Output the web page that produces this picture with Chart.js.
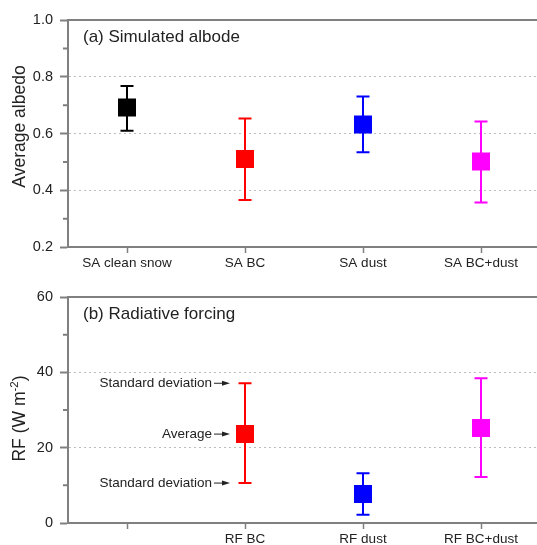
<!DOCTYPE html>
<html>
<head>
<meta charset="utf-8">
<script src="https://cdn.jsdelivr.net/npm/chart.js@4.4.0/dist/chart.umd.min.js"></script>
<style>
  html, body { margin: 0; padding: 0; background: #fff; overflow: hidden; }
  .panel { position: relative; width: 540px; }
  #top { height: 270px; }
  #bottom { height: 275px; }
</style>
</head>
<body>
<div class="panel" id="top"><canvas id="albedoChart"></canvas></div>
<div class="panel" id="bottom"><canvas id="rfChart"></canvas></div>
<script>
// panel (a): simulated albedo, mean and +/- one standard deviation
const albedoLabels = ['SA clean snow', 'SA BC', 'SA dust', 'SA BC+dust'];
const albedoMean = [0.692, 0.510, 0.632, 0.501];
const albedoUpper = [0.767, 0.653, 0.730, 0.642];
const albedoLower = [0.610, 0.366, 0.534, 0.357];
const albedoTicks = [0.2, 0.4, 0.6, 0.8, 1.0];

// panel (b): radiative forcing (first slot is empty on purpose)
const rfLabels = ['', 'RF BC', 'RF dust', 'RF BC+dust'];
const rfMean = [null, 23.6, 7.7, 25.2];
const rfUpper = [null, 37.1, 13.2, 38.4];
const rfLower = [null, 10.6, 2.2, 12.2];
const rfTicks = [0, 20, 40, 60];

const markerColors = ['#000000', '#ff0000', '#0000ff', '#ff00ff'];

const FONT = '"Liberation Sans", Arial, sans-serif';
const AXIS = '#808080';
const TEXT = '#222';
Chart.defaults.font.family = FONT;

// vertical error bars with caps, drawn under the square markers
const errorBars = {
  id: 'errorBars',
  beforeDatasetsDraw(chart, args, opts) {
    const { ctx, scales: { x, y } } = chart;
    ctx.save();
    ctx.lineWidth = 2;
    opts.upper.forEach((hi, i) => {
      if (hi == null) return;
      const px = x.getPixelForValue(i);
      const top = y.getPixelForValue(hi);
      const bot = y.getPixelForValue(opts.lower[i]);
      ctx.strokeStyle = opts.colors[i];
      ctx.beginPath();
      ctx.moveTo(px, top); ctx.lineTo(px, bot);
      ctx.moveTo(px - 6.5, top); ctx.lineTo(px + 6.5, top);
      ctx.moveTo(px - 6.5, bot); ctx.lineTo(px + 6.5, bot);
      ctx.stroke();
    });
    ctx.restore();
  }
};

// top frame line, minor y ticks, panel caption, rotated y title (with superscript)
const frame = {
  id: 'frame',
  afterDraw(chart, args, opts) {
    const { ctx, chartArea: a, scales: { y } } = chart;
    ctx.save();
    ctx.strokeStyle = AXIS;
    ctx.lineWidth = 2;
    ctx.beginPath();
    ctx.moveTo(a.left - 1, a.top);
    ctx.lineTo(a.right, a.top);
    const t = y.ticks;
    for (let i = 0; i < t.length - 1; i++) {
      const py = y.getPixelForValue((t[i].value + t[i + 1].value) / 2);
      ctx.moveTo(a.left - 5, py);
      ctx.lineTo(a.left, py);
    }
    ctx.stroke();

    ctx.fillStyle = TEXT;
    ctx.font = '17px ' + FONT;
    ctx.textBaseline = 'middle';
    ctx.fillText(opts.label, a.left + 15, a.top + 17);

    // y axis title
    const main = '17.5px ' + FONT;
    const small = '11.5px ' + FONT;
    const parts = opts.yTitle;
    let total = 0;
    parts.forEach(p => { ctx.font = p.sup ? small : main; total += ctx.measureText(p.text).width; });
    ctx.translate(24.5, (a.top + a.bottom) / 2 + opts.yShift);
    ctx.rotate(-Math.PI / 2);
    ctx.textBaseline = 'alphabetic';
    ctx.textAlign = 'left';
    let cx = -total / 2;
    parts.forEach(p => {
      ctx.font = p.sup ? small : main;
      ctx.fillText(p.text, cx, p.sup ? -7 : 0);
      cx += ctx.measureText(p.text).width;
    });
    ctx.restore();
  }
};

// "Standard deviation / Average" arrows pointing at one marker
const callouts = {
  id: 'callouts',
  afterDraw(chart, args, opts) {
    if (!opts.texts) return;
    const { ctx, scales: { x, y } } = chart;
    const i = opts.index;
    const px = x.getPixelForValue(i);
    const vals = [rfUpper[i], rfMean[i], rfLower[i]];
    ctx.save();
    ctx.font = '13.5px ' + FONT;
    ctx.fillStyle = TEXT;
    ctx.strokeStyle = TEXT;
    ctx.lineWidth = 1;
    ctx.textAlign = 'right';
    ctx.textBaseline = 'middle';
    opts.texts.forEach((txt, k) => {
      const py = y.getPixelForValue(vals[k]);
      const tip = px - 15;
      ctx.fillText(txt, px - 33, py);
      ctx.beginPath();
      ctx.moveTo(px - 31, py);
      ctx.lineTo(tip - 5, py);
      ctx.stroke();
      ctx.beginPath();
      ctx.moveTo(tip, py);
      ctx.lineTo(tip - 8, py - 2.5);
      ctx.lineTo(tip - 8, py + 2.5);
      ctx.closePath();
      ctx.fill();
    });
    ctx.restore();
  }
};

function makePanel(canvasId, cfg) {
  const ymin = cfg.ticks[0];
  const ymax = cfg.ticks[cfg.ticks.length - 1];
  return new Chart(document.getElementById(canvasId), {
    type: 'line',
    data: {
      labels: cfg.labels,
      datasets: [{
        data: cfg.mean,
        showLine: false,
        pointStyle: 'rect',
        pointRadius: 12.73,
        pointHoverRadius: 12.73,
        pointBorderWidth: 0,
        pointBackgroundColor: markerColors,
      }],
    },
    options: {
      responsive: true,
      maintainAspectRatio: false,
      animation: false,
      layout: { autoPadding: false, padding: { top: cfg.padTop, left: 0, right: 0, bottom: 0 } },
      plugins: {
        legend: { display: false },
        tooltip: { enabled: false },
        errorBars: { upper: cfg.upper, lower: cfg.lower, colors: markerColors },
        frame: { label: cfg.caption, yTitle: cfg.yTitle, yShift: cfg.yShift },
        callouts: cfg.callouts || {},
      },
      scales: {
        x: {
          offset: true,
          ticks: { color: TEXT, font: { size: 13.5 }, padding: 2, maxRotation: 0, autoSkip: false },
          grid: { drawOnChartArea: false, tickColor: AXIS, tickLength: 6, tickWidth: 1.5 },
          border: { color: AXIS, width: 2 },
          afterFit: s => { s.height = cfg.xHeight; s.paddingLeft = 0; s.paddingRight = 0; },
        },
        y: {
          min: ymin,
          max: ymax,
          afterBuildTicks: s => { s.ticks = cfg.ticks.map(v => ({ value: v })); },
          ticks: { color: TEXT, font: { size: 14.5 }, padding: 7, callback: cfg.fmt },
          grid: {
            color: c => (c.tick && c.tick.value > ymin && c.tick.value < ymax) ? '#bdbdbd' : 'rgba(0,0,0,0)',
            lineWidth: 1,
            tickColor: AXIS,
            tickLength: 8,
            tickWidth: 2,
          },
          border: { color: AXIS, width: 2, dash: [2, 3] },
          afterFit: s => { s.width = 68; },
        },
      },
    },
    plugins: [errorBars, frame, callouts],
  });
}

makePanel('albedoChart', {
  labels: albedoLabels, mean: albedoMean, upper: albedoUpper, lower: albedoLower,
  ticks: albedoTicks, fmt: v => Number(v).toFixed(1),
  yTitle: [{ text: 'Average albedo' }], yShift: -7,
  caption: '(a) Simulated albode',
  padTop: 20, xHeight: 23,
});

makePanel('rfChart', {
  labels: rfLabels, mean: rfMean, upper: rfUpper, lower: rfLower,
  ticks: rfTicks, fmt: v => String(v),
  yTitle: [{ text: 'RF (W m' }, { text: '-2', sup: true }, { text: ')' }], yShift: 8.5,
  caption: '(b) Radiative forcing',
  padTop: 27, xHeight: 22,
  callouts: { index: 1, texts: ['Standard deviation', 'Average', 'Standard deviation'] },
});
</script>
</body>
</html>
